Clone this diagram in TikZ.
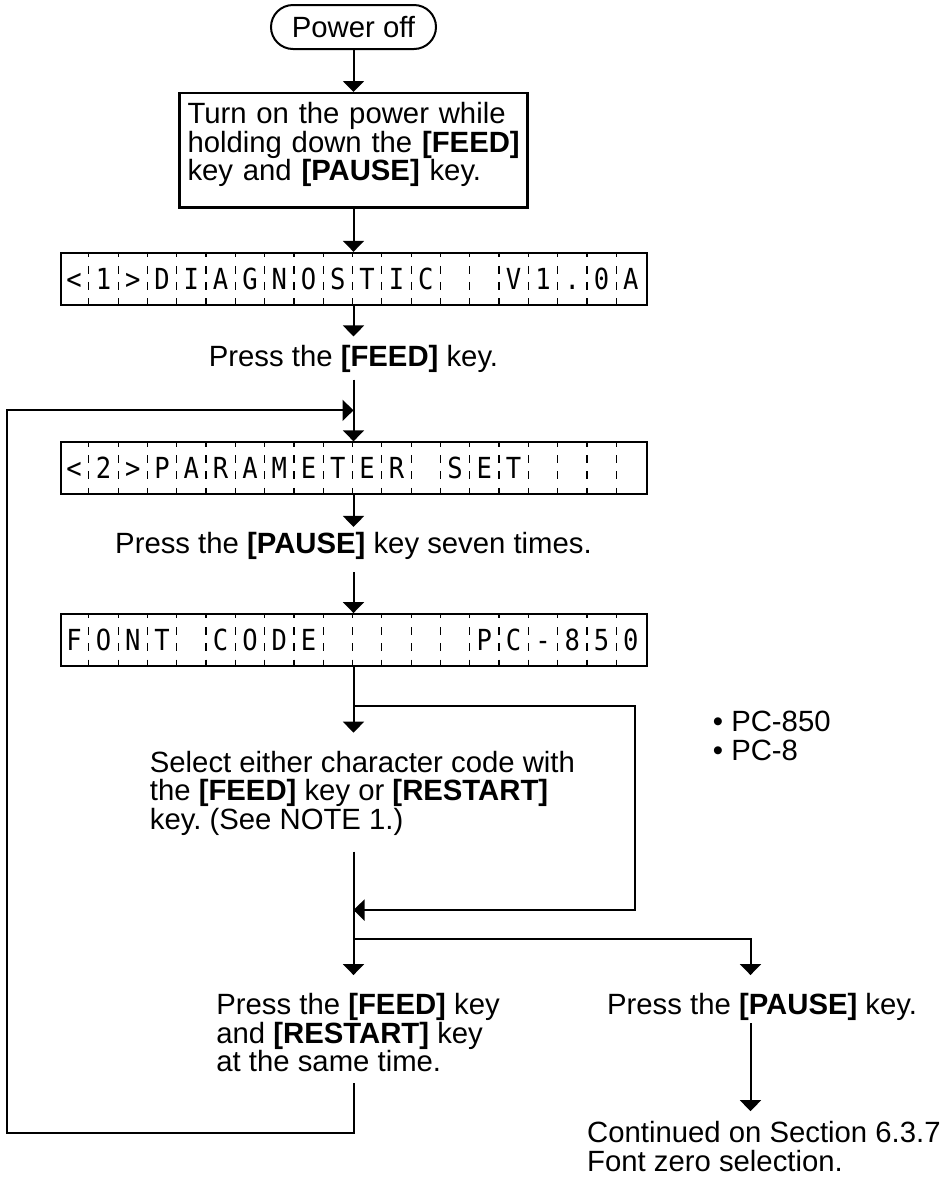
\documentclass[tikz,border=0pt]{standalone}
\usepackage{fontspec}
\setmainfont{Liberation Sans}
\newfontfamily\lcdfont[FakeStretch=0.88]{DejaVu Sans Mono}
\usepackage{tikz}
\usetikzlibrary{arrows.meta, positioning, calc}
\frenchspacing
\tikzset{
  terminal/.style={rectangle, draw, line width=1pt, rounded corners=11pt, minimum width=82.5pt, minimum height=22pt, inner sep=0pt},
  box/.style={rectangle, draw, line width=1.2pt, align=left, text width=166pt, inner xsep=4pt, inner ysep=4.6pt},
  lcd/.style={rectangle, draw, line width=1pt, minimum width=293pt, minimum height=26pt, inner sep=0pt},
  lcdsep/.style={line width=0.6pt, dash pattern=on 2.7pt off 4.3pt on 4pt off 4pt on 4pt off 4.3pt on 2.7pt},
  lcdchar/.style={inner sep=0pt, text height=10.6pt, text depth=0pt, font=\lcdfont\fontsize{14.5pt}{14.5pt}\selectfont},
  msg/.style={inner sep=0pt, align=center},
  msgl/.style={inner sep=0pt, align=left},
  line/.style={line width=1pt},
  arrow/.style={-{Triangle[length=5.5pt, width=10.5pt]}, line width=1pt},
}
\begin{document}
\begin{tikzpicture}[font=\fontsize{14.65pt}{14.2pt}\selectfont]
  \useasboundingbox (0,0) rectangle (471pt,-592pt);
  \node[terminal] (poweroff) at (176.75pt,-13.5pt) {Power off};
  \node[box, below=21pt of poweroff] (turnon) {\mbox{Turn on the power while}\\\mbox{holding down the \textbf{[FEED]}}\\\mbox{key and \textbf{[PAUSE]} key.}\rule[-9pt]{0pt}{9pt}};
  \node[lcd, below=21.5pt of turnon] (lcd1) {};
  \node[msg, below=19.3pt of lcd1] (pressfeed) {Press the \textbf{[FEED]} key.};
  \node[lcd, below=34.4pt of pressfeed] (lcd2) {};
  \node[msg, below=18.3pt of lcd2] (pressseven) {Press the \textbf{[PAUSE]} key seven times.};
  \node[lcd, below=26.5pt of pressseven] (lcd3) {};
  \foreach \lcdname in {lcd1,lcd2,lcd3}
    \foreach \k in {1,...,19}
      \draw[lcdsep] ($(\lcdname.north west)+(\k*14.65pt,0)$) -- ++(0,-26pt);
  \foreach \ch [count=\k from 0] in {<,1,>,D,I,A,G,N,O,S,T,I,C,{},{},V,1,.,0,A}
    \node[lcdchar] (lcd1-\k) at ($(lcd1.west)+(\k*14.65pt+7.325pt,0)$) {\ch};
  \foreach \ch [count=\k from 0] in {<,2,>,P,A,R,A,M,E,T,E,R,{},S,E,T,{},{},{},{}}
    \node[lcdchar] (lcd2-\k) at ($(lcd2.west)+(\k*14.65pt+7.325pt,0)$) {\ch};
  \foreach \ch [count=\k from 0] in {F,O,N,T,{},C,O,D,E,{},{},{},{},{},P,C,-,8,5,0}
    \node[lcdchar] (lcd3-\k) at ($(lcd3.west)+(\k*14.65pt+7.325pt,0)$) {\ch};
  \coordinate[above=15.5pt of lcd2] (join1);
  \coordinate[left=173.25pt of join1] (loopcorner);
  \coordinate[below=19.5pt of lcd3] (fork1);
  \coordinate[right=140.5pt of fork1] (fork1r);
  \coordinate[below=121.5pt of lcd3] (merge1);
  \coordinate[below=136pt of lcd3] (fork2);
  \coordinate[right=198.5pt of fork2] (fork2r);
  \coordinate[below=97pt of fork2] (loopbl);
  \node[msgl, below=41.8pt of lcd3.south west, anchor=north west, xshift=45pt] (select) {Select either character code with\\the \textbf{[FEED]} key or \textbf{[RESTART]}\\key. (See NOTE 1.)};
  \node[msgl, below right=2.5pt and 39pt of fork1r] (pclist) {\textbullet\ PC-850\\\textbullet\ PC-8};
  \node[msgl, below=27pt of fork2, anchor=north west, xshift=-68.75pt] (pressboth) {Press the \textbf{[FEED]} key\\and \textbf{[RESTART]} key\\at the same time.};
  \node[msg, below=27pt of fork2r, xshift=5.8pt] (presspause) {Press the \textbf{[PAUSE]} key.};
  \node[msgl, below=50pt of presspause.south west, anchor=north west, xshift=-10pt] (continued) {Continued on Section 6.3.7\\Font zero selection.};
  \draw[arrow] (poweroff) -- (turnon);
  \draw[arrow] (turnon) -- (lcd1);
  \draw[arrow, shorten >=4pt] (lcd1) -- (pressfeed);
  \draw[arrow, shorten <=3.5pt] (pressfeed) -- (lcd2);
  \draw[arrow, shorten >=2.5pt] (lcd2) -- (pressseven);
  \draw[arrow, shorten <=6pt] (pressseven) -- (lcd3);
  \draw[arrow, shorten >=9pt] (lcd3) -- (lcd3.south |- select.north);
  \draw[arrow] (fork1) -- (fork1r) |- (merge1);
  \draw[line, shorten <=8pt] (lcd3.south |- select.south) -- (fork2);
  \draw[arrow, shorten >=9pt] (fork2) -- (fork2 |- pressboth.north);
  \draw[arrow, shorten >=9pt] (fork2) -- (fork2r) -- (fork2r |- presspause.north);
  \draw[arrow, shorten <=1pt, shorten >=5pt] (fork2r |- presspause.south) -- (fork2r |- continued.north);
  \draw[arrow, shorten <=5.6pt] (fork2 |- pressboth.south) -- (loopbl) -| (loopcorner) -- (join1);
\end{tikzpicture}
\end{document}
